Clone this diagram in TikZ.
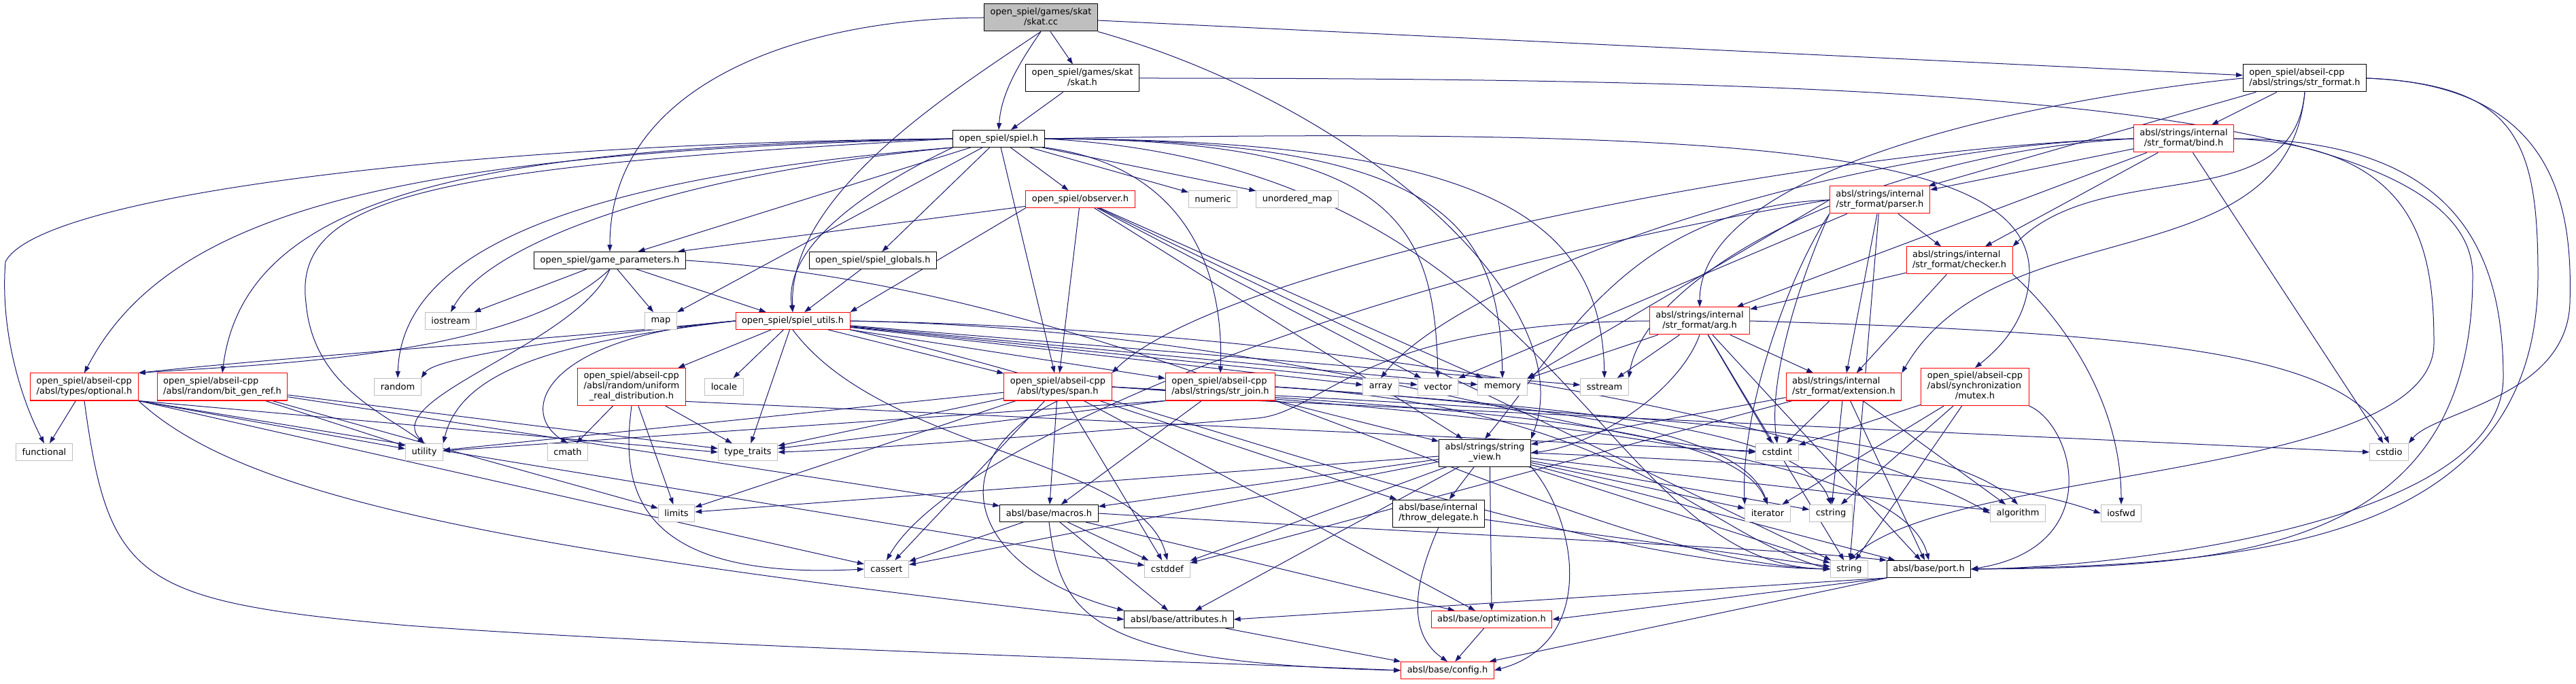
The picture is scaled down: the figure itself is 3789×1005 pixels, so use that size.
\documentclass[tikz,border=0pt]{standalone}
\usepackage{fontspec}
\newfontfamily\dotfont{DejaVu Sans}
\usetikzlibrary{arrows.meta}
\pgfdeclarelayer{edges}
\pgfsetlayers{edges,main}
\definecolor{edgeblue}{HTML}{191970}
\definecolor{sysgray}{HTML}{BFBFBF}
\definecolor{cutred}{HTML}{FF0000}
\newcommand{\hdrtwo}[2]{\begin{tabular}{@{}l@{}}#1\\\multicolumn{1}{@{}c@{}}{#2}\end{tabular}}
\newcommand{\hdrthree}[3]{\begin{tabular}{@{}l@{}}#1\\#2\\\multicolumn{1}{@{}c@{}}{#3}\end{tabular}}
\tikzset{
  hdr/.style={draw=black, line width=1pt, fill=white, inner xsep=9pt, inner ysep=5pt,
    minimum height=25pt, font=\dotfont\fontsize{13pt}{15pt}\selectfont},
  hdrsrc/.style={hdr, fill=sysgray},
  hdrcut/.style={hdr, draw=cutred},
  hdrsys/.style={hdr, draw=sysgray},
  incl/.style={draw=edgeblue, line width=1pt, -{Triangle[length=10pt,width=7pt]}}
}

\begin{document}
\begin{tikzpicture}[x=1pt,y=1pt]
  \useasboundingbox (0,0) rectangle (3789,1005);

  % Top of the graph
  \node[hdrsrc] (skatcc) at (1531,979) {\hdrtwo{open\_spiel/games/skat}{/skat.cc}};
  \node[hdr] (skath) at (1592,890) {\hdrtwo{open\_spiel/games/skat}{/skat.h}};
  \node[hdr] (strformat) at (3390,890) {\hdrtwo{open\_spiel/abseil-cpp}{/absl/strings/str\_format.h}};
  \node[hdr] (spiel) at (1469,801) {open\_spiel/spiel.h};
  \node[hdrcut] (bind) at (3212,801) {\hdrtwo{absl/strings/internal}{/str\_format/bind.h}};
  \node[hdrcut] (observer) at (1589,712) {open\_spiel/observer.h};
  \node[hdrsys] (numeric) at (1784,712) {numeric};
  \node[hdrsys] (unorderedmap) at (1908,712) {unordered\_map};
  \node[hdrcut] (parser) at (2765,711) {\hdrtwo{absl/strings/internal}{/str\_format/parser.h}};
  \node[hdr] (gameparams) at (897,622) {open\_spiel/game\_parameters.h};
  \node[hdr] (globals) at (1284,622) {open\_spiel/spiel\_globals.h};
  \node[hdrcut] (checker) at (2882,622) {\hdrtwo{absl/strings/internal}{/str\_format/checker.h}};
  \node[hdrsys] (iostream) at (663,533) {iostream};
  \node[hdrsys] (map) at (972,533) {map};
  \node[hdrcut] (utils) at (1166,533) {open\_spiel/spiel\_utils.h};
  \node[hdrcut] (arg) at (2500,533) {\hdrtwo{absl/strings/internal}{/str\_format/arg.h}};

  % Middle rows
  \node[hdrcut] (optional) at (124,436) {\hdrtwo{open\_spiel/abseil-cpp}{/absl/types/optional.h}};
  \node[hdrcut] (bitgen) at (327,436) {\hdrtwo{open\_spiel/abseil-cpp}{/absl/random/bit\_gen\_ref.h}};
  \node[hdrsys] (random) at (585,436) {random};
  \node[hdrcut] (uniform) at (929,436) {\hdrthree{open\_spiel/abseil-cpp}{/absl/random/uniform}{\_real\_distribution.h}};
  \node[hdrsys] (locale) at (1065,436) {locale};
  \node[hdrcut] (span) at (1556,436) {\hdrtwo{open\_spiel/abseil-cpp}{/absl/types/span.h}};
  \node[hdrcut] (strjoin) at (1795,436) {\hdrtwo{open\_spiel/abseil-cpp}{/absl/strings/str\_join.h}};
  \node[hdrsys] (array) at (2031,436) {array};
  \node[hdrsys] (vector) at (2115,436) {vector};
  \node[hdrsys] (memory) at (2210,436) {memory};
  \node[hdrsys] (sstream) at (2360,436) {sstream};
  \node[hdrcut] (extension) at (2712,436) {\hdrtwo{absl/strings/internal}{/str\_format/extension.h}};
  \node[hdrcut] (mutex) at (2905,436) {\hdrthree{open\_spiel/abseil-cpp}{/absl/synchronization}{/mutex.h}};
  \node[hdrsys] (functional) at (65,340) {functional};
  \node[hdrsys] (utility) at (624,340) {utility};
  \node[hdrsys] (cmath) at (835,340) {cmath};
  \node[hdrsys] (typetraits) at (1100,340) {type\_traits};
  \node[hdr] (stringview) at (2184,339) {\hdrtwo{absl/strings/string}{\_view.h}};
  \node[hdrsys] (cstdint) at (2614,340) {cstdint};
  \node[hdrsys] (cstdio) at (3514,340) {cstdio};

  % Bottom rows
  \node[hdrsys] (limits) at (995,250) {limits};
  \node[hdr] (macros) at (1543,250) {absl/base/macros.h};
  \node[hdr] (throwdel) at (2116,250) {\hdrtwo{absl/base/internal}{/throw\_delegate.h}};
  \node[hdrsys] (iterator) at (2600,250) {iterator};
  \node[hdrsys] (cstring) at (2693,250) {cstring};
  \node[hdrsys] (algorithm) at (2968,250) {algorithm};
  \node[hdrsys] (iosfwd) at (3120,250) {iosfwd};
  \node[hdrsys] (cassert) at (1304,168) {cassert};
  \node[hdrsys] (cstddef) at (1717,168) {cstddef};
  \node[hdrsys] (string) at (2720,168) {string};
  \node[hdr] (port) at (2837,168) {absl/base/port.h};
  \node[hdr] (attributes) at (1734,94) {absl/base/attributes.h};
  \node[hdrcut] (optimization) at (2194,94) {absl/base/optimization.h};
  \node[hdrcut] (config) at (2129,19) {absl/base/config.h};

  \begin{pgfonlayer}{edges}
  % skat.cc
  \foreach \t in {skath,strformat}
    \draw[incl] (skatcc) -- (\t);
  \draw[incl] (skatcc.south) .. controls (1490,900) and (1472,860) .. (spiel.north);
  \draw[incl] (skatcc.west) to[out=180,in=90] (gameparams.north);
  \draw[incl] (skatcc.south) .. controls (1400,870) and (1160,720) .. (utils.north);
  \draw[incl] (skatcc.south east) .. controls (2000,850) and (2330,560) .. (stringview.north east);

  % skat.h
  \draw[incl] (skath) -- (spiel);
  \draw[incl] (skath.east) .. controls (2800,890) and (3637,860) .. (3637,600)
    .. controls (3637,200) and (3300,170) .. (port.east);

  % str_format.h
  \foreach \t in {bind,parser}
    \draw[incl] (strformat) -- (\t);
  \draw[incl] (strformat.west) .. controls (3000,860) and (2500,760) .. (arg.north);
  \draw[incl] (strformat.south) to[out=-95,in=45] (checker.north east);
  \draw[incl] (strformat.south) to[out=-95,in=60] (extension.north east);
  \draw[incl] (strformat.east) .. controls (3760,880) and (3784,700) .. (3780,560)
    .. controls (3776,420) and (3580,400) .. (cstdio.north east);
  \draw[incl] (strformat.east) .. controls (3700,880) and (3733,800) .. (3733,600)
    .. controls (3733,200) and (3300,175) .. (port.east);

  % spiel.h
  \foreach \t in {numeric,unorderedmap,observer,globals,gameparams,map,span}
    \draw[incl] (spiel) -- (\t);
  \draw[incl] (spiel.south west) .. controls (1300,740) and (1150,650) .. (utils.north);
  \draw[incl] (spiel.west) .. controls (700,795) and (60,720) .. (8,620)
    .. controls (0,520) and (30,420) .. (functional.north);
  \draw[incl] (spiel.west) .. controls (600,780) and (250,700) .. (optional.north);
  \draw[incl] (spiel.west) .. controls (700,790) and (360,720) .. (bitgen.north);
  \draw[incl] (spiel.west) .. controls (650,760) and (430,720) .. (450,560)
    .. controls (460,440) and (560,400) .. (utility.north);
  \draw[incl] (spiel.south west) .. controls (800,740) and (590,620) .. (random.north);
  \draw[incl] (spiel.south west) .. controls (1000,750) and (720,650) .. (iostream.north);
  \draw[incl] (spiel.south east) .. controls (1750,760) and (1800,600) .. (strjoin.north);
  \draw[incl] (spiel.east) .. controls (2050,800) and (2110,680) .. (vector.north);
  \draw[incl] (spiel.east) .. controls (2120,800) and (2205,680) .. (memory.north);
  \draw[incl] (spiel.east) .. controls (2200,800) and (2355,680) .. (sstream.north);
  \draw[incl] (spiel.east) .. controls (2300,760) and (2350,175) .. (string.west);
  \draw[incl] (spiel.east) .. controls (2600,820) and (2990,780) .. (2985,600)
    .. controls (2982,540) and (2950,500) .. (mutex.north);

  % observer.h
  \foreach \t in {gameparams,span,vector,memory,string,stringview}
    \draw[incl] (observer) -- (\t);
  \draw[incl] (observer.south west) -- (utils.north east);

  % game_parameters.h and spiel_globals.h
  \foreach \t in {iostream,map,utils}
    \draw[incl] (gameparams) -- (\t);
  \draw[incl] (gameparams.south) .. controls (760,480) and (400,470) .. (optional.north east);
  \draw[incl] (gameparams.south) .. controls (850,500) and (560,420) .. (utility.north);
  \draw[incl] (gameparams.east) .. controls (1700,580) and (2300,180) .. (string.west);
  \draw[incl] (globals) -- (utils);

  % spiel_utils.h
  \foreach \t in {uniform,locale,typetraits,span,strjoin,array,vector,memory,sstream}
    \draw[incl] (utils) -- (\t);
  \draw[incl] (utils.west) .. controls (800,505) and (420,480) .. (optional.north east);
  \draw[incl] (utils.west) .. controls (850,510) and (640,480) .. (random.north east);
  \draw[incl] (utils.west) .. controls (850,505) and (680,470) .. (utility.north east);
  \draw[incl] (utils.west) .. controls (800,510) and (760,400) .. (cmath.north);
  \draw[incl] (utils.south) .. controls (1300,340) and (1680,330) .. (cstddef.north);
  \draw[incl] (utils.east) .. controls (1900,520) and (2300,360) .. (cstdint.west);
  \draw[incl] (utils.east) .. controls (2000,520) and (2700,380) .. (algorithm.west);
  \draw[incl] (utils.south east) .. controls (1700,420) and (2300,175) .. (string.west);

  % bind.h
  \foreach \t in {arg,checker,parser,cstdio}
    \draw[incl] (bind) -- (\t);
  \draw[incl] (bind.west) .. controls (2700,790) and (1800,620) .. (span.north east);
  \draw[incl] (bind.west) .. controls (2700,790) and (2150,600) .. (array.north);
  \draw[incl] (bind.west) .. controls (2750,780) and (2420,600) .. (sstream.north east);
  \draw[incl] (bind.east) .. controls (3550,790) and (3580,650) .. (3580,500)
    .. controls (3580,300) and (2870,320) .. (string.north);
  \draw[incl] (bind.east) .. controls (3600,800) and (3682,650) .. (3682,450)
    .. controls (3682,230) and (3100,170) .. (port.east);

  % parser.h and checker.h
  \foreach \t in {checker,extension,vector,string}
    \draw[incl] (parser) -- (\t);
  \draw[incl] (parser.west) -- (memory.north east);
  \draw[incl] (parser.west) .. controls (2400,700) and (2300,500) .. (stringview.north);
  \draw[incl] (parser.west) .. controls (2000,600) and (1400,350) .. (cassert.north);
  \draw[incl] (parser.south west) .. controls (2650,600) and (2600,450) .. (cstdint.north);
  \draw[incl] (parser.south west) .. controls (2630,600) and (2560,400) .. (iterator.north west);
  \foreach \t in {arg,extension}
    \draw[incl] (checker) -- (\t);
  \draw[incl] (checker.south east) .. controls (3050,520) and (3120,400) .. (iosfwd.north);

  % arg.h
  \foreach \t in {memory,sstream,extension,cstdint,port,string}
    \draw[incl] (arg) -- (\t);
  \draw[incl] (arg.south) .. controls (2470,430) and (2350,350) .. (stringview.east);
  \draw[incl] (arg.west) .. controls (2000,530) and (1950,400) .. (1850,390)
    .. controls (1600,370) and (1300,345) .. (typetraits.east);
  \draw[incl] (arg.east) .. controls (3200,515) and (3450,480) .. (cstdio.north);

  % extension.h and mutex.h
  \foreach \t in {stringview,cstdint,cstring,port,algorithm,cstddef}
    \draw[incl] (extension) -- (\t);
  \foreach \t in {cstdint,iterator,cstring,string}
    \draw[incl] (mutex) -- (\t);
  \draw[incl] (mutex.south east) .. controls (3050,380) and (3100,200) .. (port.east);

  % optional.h, bit_gen_ref.h, uniform_real_distribution.h
  \draw[incl] (optional) -- (functional);
  \foreach \t in {utility,cassert,cstddef}
    \draw[incl] (optional.south east) -- (\t);
  \draw[incl] (optional.south east) -- (typetraits.west);
  \draw[incl] (optional.south east) .. controls (350,280) and (700,200) .. (attributes.west);
  \draw[incl] (optional.south) .. controls (160,150) and (200,120) .. (600,85)
    .. controls (1000,55) and (1800,30) .. (config.west);
  \foreach \t in {limits,typetraits,utility,macros}
    \draw[incl] (bitgen) -- (\t);
  \foreach \t in {cmath,limits,typetraits}
    \draw[incl] (uniform) -- (\t);
  \draw[incl] (uniform.south) .. controls (915,300) and (920,150) .. (cassert.west);
  \draw[incl] (uniform.-15) -- (cstdint);

  % span.h
  \foreach \t in {utility,typetraits,cassert,macros,cstddef,optimization,throwdel,limits}
    \draw[incl] (span) -- (\t);
  \draw[incl] (span.south) .. controls (1380,330) and (1420,170) .. (attributes.north west);
  \draw[incl] (span.east) .. controls (2200,400) and (2550,380) .. (iterator.north);
  \draw[incl] (span.east) .. controls (2300,400) and (2850,380) .. (algorithm.north);
  \draw[incl] (span.east) .. controls (2300,390) and (2800,330) .. (port.north);

  % str_join.h
  \foreach \t in {macros,stringview}
    \draw[incl] (strjoin) -- (\t);
  \foreach \t in {utility,typetraits}
    \draw[incl] (strjoin.south west) -- (\t);
  \draw[incl] (strjoin.-20) -- (cstdio.west);
  \draw[incl] (strjoin.east) .. controls (2250,410) and (2560,380) .. (iterator.north);
  \draw[incl] (strjoin.east) .. controls (2300,405) and (2650,380) .. (cstring.north);
  \draw[incl] (strjoin.east) .. controls (2400,405) and (2500,220) .. (string.west);

  % string_view.h
  \foreach \t in {algorithm,cassert,cstddef,cstring,iterator,limits,string,attributes,throwdel,macros,port}
    \draw[incl] (stringview) -- (\t);
  \draw[incl] (stringview.-70) -- (optimization.north);
  \draw[incl] (stringview.east) .. controls (2700,320) and (2950,300) .. (iosfwd.west);
  \draw[incl] (stringview.south east) .. controls (2320,240) and (2350,60) .. (config.east);

  % absl/base
  \draw[incl] (throwdel) -- (string);
  \draw[incl] (throwdel.south) .. controls (2090,170) and (2060,80) .. (config.north);
  \foreach \t in {cassert,cstddef,attributes,optimization}
    \draw[incl] (macros) -- (\t);
  \draw[incl] (macros.east) .. controls (2100,220) and (2600,200) .. (port.north west);
  \draw[incl] (macros.south) .. controls (1560,100) and (1600,30) .. (config.west);
  \draw[incl] (port.south west) -- (attributes.east);
  \draw[incl] (port.south west) -- (optimization.east);
  \draw[incl] (port) -- (config);
  \draw[incl] (optimization) -- (config);
  \draw[incl] (attributes) -- (config);
  \end{pgfonlayer}

\end{tikzpicture}
\end{document}
